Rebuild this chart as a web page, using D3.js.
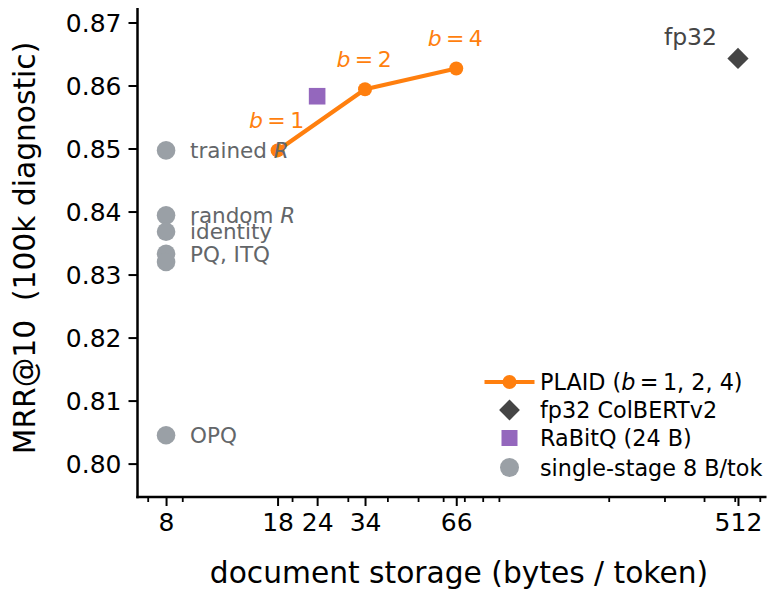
<!DOCTYPE html>
<html>
<head>
<meta charset="utf-8">
<script src="https://cdn.jsdelivr.net/npm/d3@7"></script>
<style>
  html, body { margin: 0; padding: 0; background: #fff; }
  svg { display: block; font-family: "DejaVu Sans", sans-serif; }
</style>
</head>
<body>
<svg id="chart" width="779" height="590"></svg>
<script>
// ---- data ----
const plaidBytes = [18, 34, 66];
const plaidMRR = [0.8497, 0.8594, 0.8627];
const plaidLabels = ["1", "2", "4"];

const fp32Bytes = [512];
const fp32MRR = [0.8643];

const rabitqBytes = [24];
const rabitqMRR = [0.8583];

const singleNames = ["trained R", "random R", "identity", "PQ", "ITQ", "OPQ"];
const singleBytes = [8, 8, 8, 8, 8, 8];
const singleMRR = [0.8497, 0.8394, 0.8368, 0.8333, 0.8320, 0.8045];

// annotation texts for single-stage methods: [text, italic suffix, anchor value]
const singleAnnot = [
  ["trained ", "R", 0.8497],
  ["random ", "R", 0.8394],
  ["identity", "", 0.8368],
  ["PQ, ITQ", "", 0.8333],
  ["OPQ", "", 0.8045]
];

const xMajorTicks = [8, 18, 24, 34, 66, 512];
const xMinorTicks = [7, 9, 20, 30, 40, 50, 60, 70, 80, 90, 200, 300, 400, 500, 600];
const yTicks = [0.80, 0.81, 0.82, 0.83, 0.84, 0.85, 0.86, 0.87];

const legendLabels = ["PLAID", "fp32 ColBERTv2", "RaBitQ (24 B)", "single-stage 8 B/tok"];

// ---- colours ----
const cOrange = "#ff7f0e";
const cPurple = "#9467bd";
const cDark = "#454545";
const cGray = "#9aa0a6";
const cGrayText = "#636669";

// ---- layout ----
const svg = d3.select("#chart");
const pLeft = 137.5, pRight = 766.5, pTop = 8, pBottom = 497;

const x = d3.scaleLog().domain([6.5, 630]).range([pLeft, pRight]);
const y = d3.scaleLinear().domain([0.7947, 0.8723]).range([pBottom, pTop]);

// ---- axes ----
const xAxisMinor = d3.axisBottom(x).tickValues(xMinorTicks).tickSize(5).tickFormat("");
const gxm = svg.append("g").attr("transform", `translate(0,${pBottom})`).call(xAxisMinor);
gxm.select(".domain").remove();
gxm.selectAll(".tick line").attr("stroke", "#000").attr("stroke-width", 1.8);

const xAxis = d3.axisBottom(x).tickValues(xMajorTicks).tickSize(9).tickPadding(7)
  .tickFormat(d3.format("d"));
const gx = svg.append("g").attr("transform", `translate(0,${pBottom})`).call(xAxis);
gx.select(".domain").remove();
gx.selectAll(".tick line").attr("stroke", "#000").attr("stroke-width", 2);
gx.selectAll(".tick text").attr("font-size", 25).attr("fill", "#000")
  .attr("font-family", "DejaVu Sans").attr("dy", "0.71em");

const yAxis = d3.axisLeft(y).tickValues(yTicks).tickSize(9).tickPadding(7)
  .tickFormat(d3.format(".2f"));
const gy = svg.append("g").attr("transform", `translate(${pLeft},0)`).call(yAxis);
gy.select(".domain").remove();
gy.selectAll(".tick line").attr("stroke", "#000").attr("stroke-width", 2);
gy.selectAll(".tick text").attr("font-size", 25).attr("fill", "#000")
  .attr("font-family", "DejaVu Sans").attr("dy", "0.36em");

// spines
svg.append("line").attr("x1", pLeft).attr("x2", pLeft).attr("y1", pTop).attr("y2", pBottom + 1.2)
  .attr("stroke", "#000").attr("stroke-width", 2.5);
svg.append("line").attr("x1", pLeft - 1.2).attr("x2", pRight).attr("y1", pBottom).attr("y2", pBottom)
  .attr("stroke", "#000").attr("stroke-width", 2.5);

// axis labels
svg.append("text").attr("x", 459).attr("y", 583).attr("text-anchor", "middle")
  .attr("font-size", 29.7).attr("fill", "#000").text("document storage (bytes / token)");
svg.append("text").attr("transform", "translate(35,248) rotate(-90)").attr("text-anchor", "middle")
  .attr("font-size", 29.7).attr("fill", "#000")
  .text("MRR@10\u00a0\u00a0(100k diagnostic)");

// ---- marks ----
// single-stage dots
svg.append("g").selectAll("circle").data(singleMRR).join("circle")
  .attr("cx", (d, i) => x(singleBytes[i])).attr("cy", d => y(d)).attr("r", 9.3)
  .attr("fill", cGray);

// PLAID line + points
const plaid = plaidBytes.map((b, i) => [b, plaidMRR[i]]);
svg.append("path").datum(plaid)
  .attr("d", d3.line().x(d => x(d[0])).y(d => y(d[1])))
  .attr("fill", "none").attr("stroke", cOrange).attr("stroke-width", 4.2)
  .attr("stroke-linejoin", "round");
svg.append("g").selectAll("circle").data(plaid).join("circle")
  .attr("cx", d => x(d[0])).attr("cy", d => y(d[1])).attr("r", 7).attr("fill", cOrange);

// RaBitQ square
svg.append("g").selectAll("rect").data(rabitqMRR).join("rect")
  .attr("x", (d, i) => x(rabitqBytes[i]) - 8.3).attr("y", d => y(d) - 8.3)
  .attr("width", 16.6).attr("height", 16.6).attr("fill", cPurple);

// fp32 diamond
const diamond = (cx, cy, r) => `M${cx},${cy - r}L${cx + r},${cy}L${cx},${cy + r}L${cx - r},${cy}Z`;
svg.append("g").selectAll("path").data(fp32MRR).join("path")
  .attr("d", (d, i) => diamond(x(fp32Bytes[i]), y(d), 10.6)).attr("fill", cDark);

// ---- annotations ----
// b labels
plaid.forEach((d, i) => {
  const t = svg.append("text").attr("x", x(d[0]) - 1).attr("y", y(d[1]) - 22)
    .attr("text-anchor", "middle").attr("font-size", 22).attr("fill", cOrange);
  t.append("tspan").attr("font-style", "italic").text("b");
  t.append("tspan").text("\u2009=\u2009" + plaidLabels[i]);
});

// single-stage labels
singleAnnot.forEach(a => {
  const t = svg.append("text").attr("x", x(8) + 24).attr("y", y(a[2])).attr("dy", "0.36em")
    .attr("font-size", 21.5).attr("fill", cGrayText).style("white-space", "pre");
  t.append("tspan").text(a[0]);
  if (a[1]) t.append("tspan").attr("font-style", "italic").text(a[1]);
});

// fp32 label
svg.append("text").attr("x", x(512) - 21).attr("y", y(0.8643) - 13)
  .attr("text-anchor", "end").attr("font-size", 23.5).attr("fill", cDark).text("fp32");

// ---- legend ----
const lgX = 509.5, lgText = 540;
const rows = [382, 410, 438, 467.5];
const lg = svg.append("g");
lg.append("line").attr("x1", lgX - 25).attr("x2", lgX + 25).attr("y1", rows[0]).attr("y2", rows[0])
  .attr("stroke", cOrange).attr("stroke-width", 4.2);
lg.append("circle").attr("cx", lgX).attr("cy", rows[0]).attr("r", 7).attr("fill", cOrange);
lg.append("path").attr("d", diamond(lgX, rows[1], 10.4)).attr("fill", cDark);
lg.append("rect").attr("x", lgX - 8).attr("y", rows[2] - 8).attr("width", 16).attr("height", 16).attr("fill", cPurple);
lg.append("circle").attr("cx", lgX).attr("cy", rows[3]).attr("r", 9.5).attr("fill", cGray);

legendLabels.forEach((lab, i) => {
  const t = lg.append("text").attr("x", lgText).attr("y", rows[i]).attr("dy", "0.36em")
    .attr("font-size", 22.3).attr("fill", "#000").style("white-space", "pre");
  if (i === 0) {
    t.append("tspan").text(lab + " (");
    t.append("tspan").attr("font-style", "italic").text("b");
    t.append("tspan").text("\u2009=\u20091, 2, 4)");
  } else {
    t.text(lab);
  }
});
</script>
</body>
</html>
